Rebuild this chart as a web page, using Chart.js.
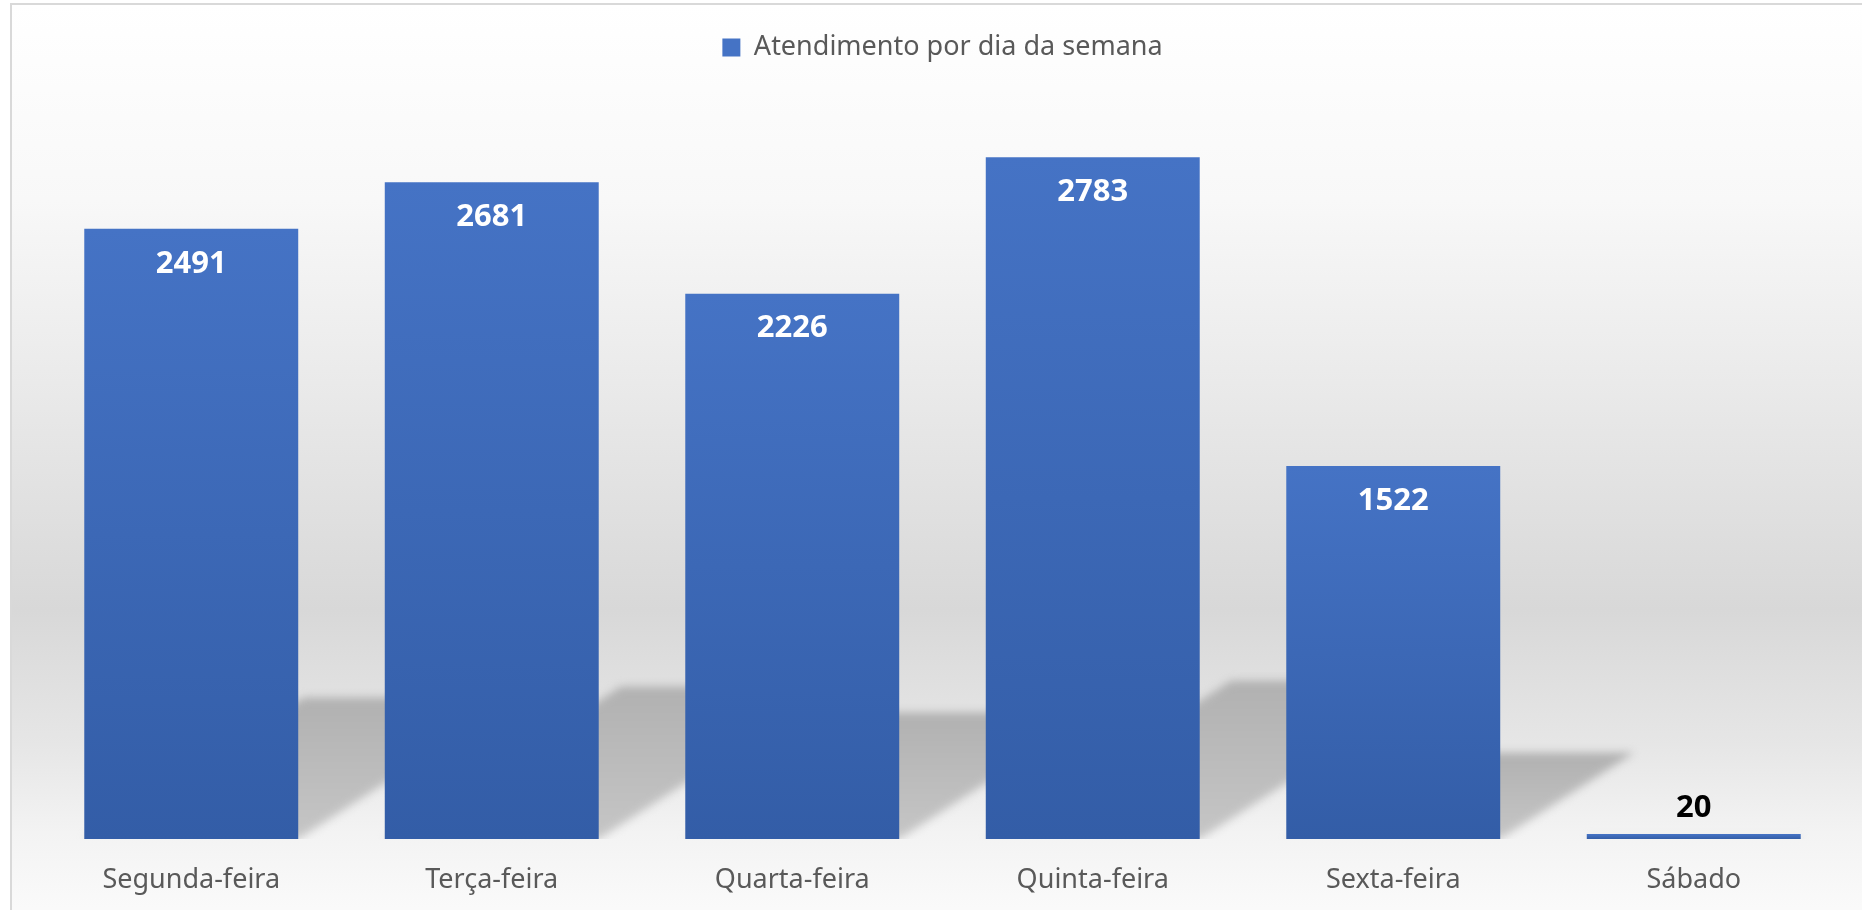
<!DOCTYPE html>
<html>
<head>
<meta charset="utf-8">
<script src="https://cdn.jsdelivr.net/npm/chart.js@4.4.0/dist/chart.umd.min.js"></script>
<style>
html, body { margin: 0; padding: 0; width: 1862px; height: 910px; overflow: hidden; background: #fff; }
#frame {
    position: absolute; left: 10px; top: 3px; width: 1870px; height: 930px;
    border: 2px solid #d9d9d9;
    background: linear-gradient(to bottom, #ffffff 0%, #f8f8f8 21%, #e9e9e9 42%, #d8d8d8 65%, #e6e6e6 79.5%, #f3f3f3 89%, #fafafa 97%);
}
#wrap { position: absolute; left: 0; top: 0; width: 1862px; height: 910px; }
</style>
</head>
<body>
<div id="frame"></div>
<div id="wrap"><canvas id="chart" width="1862" height="910"></canvas></div>
<script>
const dias = ["Segunda-feira", "Terça-feira", "Quarta-feira", "Quinta-feira", "Sexta-feira", "Sábado"];
const atendimentos = [2491, 2681, 2226, 2783, 1522, 20];
const serieNome = "Atendimento por dia da semana";
const yMax = 3000;

/**
 * gradient per bar, from its top to the base line
 */
function barGradient(ctx) {
    const chart = ctx.chart;
    if (!chart.chartArea || ctx.parsed === undefined) return "#4472c4";
    const y = chart.scales.y;
    const top = y.getPixelForValue(ctx.parsed.y);
    const base = y.getPixelForValue(0);
    const g = chart.ctx.createLinearGradient(0, top, 0, Math.max(base, top + 1));
    g.addColorStop(0, "#4573c5");
    g.addColorStop(1, "#335da7");
    return g;
}

// perspective shadow behind each bar
const sombraPlugin = {
    id: "sombra",
    beforeDatasetsDraw(chart) {
        const c = chart.ctx;
        const area = chart.chartArea;
        c.save();
        c.beginPath();
        c.rect(0, 0, chart.width, area.bottom);
        c.clip();
        c.filter = "blur(4px)";
        chart.getDatasetMeta(0).data.forEach(bar => {
            const h = (bar.base - bar.y) * 0.232;
            const dx = h * 1.55;
            const l = bar.x - bar.width / 2;
            const r = bar.x + bar.width / 2;
            const g = c.createLinearGradient(0, bar.base - h, 0, bar.base);
            g.addColorStop(0, "#b1b1b1");
            g.addColorStop(1, "#c6c6c6");
            c.fillStyle = g;
            c.beginPath();
            c.moveTo(l, bar.base);
            c.lineTo(r, bar.base);
            c.lineTo(r + dx, bar.base - h);
            c.lineTo(l + dx, bar.base - h);
            c.closePath();
            c.fill();
        });
        c.restore();
    }
};

// values on the bars
const rotulosPlugin = {
    id: "rotulos",
    afterDatasetsDraw(chart) {
        const c = chart.ctx;
        c.save();
        c.font = "bold 31px 'Noto Sans'";
        c.textAlign = "center";
        c.textBaseline = "middle";
        chart.getDatasetMeta(0).data.forEach((bar, i) => {
            const inside = bar.base - bar.y > 60;
            c.fillStyle = inside ? "#ffffff" : "#000000";
            c.fillText(String(atendimentos[i]), bar.x, inside ? bar.y + 35 : bar.y - 26);
        });
        c.restore();
    }
};

new Chart(document.getElementById("chart"), {
    type: "bar",
    data: {
        labels: dias,
        datasets: [{
            label: serieNome,
            data: atendimentos,
            backgroundColor: barGradient,
            borderWidth: 0,
            categoryPercentage: 1,
            barPercentage: 0.712
        }]
    },
    options: {
        responsive: false,
        animation: false,
        devicePixelRatio: 1,
        layout: { padding: { left: 41, right: 18, top: 24, bottom: 0 } },
        plugins: {
            tooltip: { enabled: false },
            legend: {
                position: "top",
                labels: {
                    boxWidth: 18,
                    boxHeight: 18,
                    padding: 10,
                    color: "#595959",
                    font: { family: "'Noto Sans'", size: 27 }
                }
            },
            // empty spacer between legend and bars
            subtitle: {
                display: true,
                text: "",
                weight: 500,
                font: { size: 10, lineHeight: 1.2 },
                padding: { top: 0, bottom: 21 }
            }
        },
        scales: {
            x: {
                grid: { display: false, drawTicks: false },
                border: { display: false },
                ticks: { color: "#595959", padding: 25, font: { family: "'Noto Sans'", size: 27 } },
                afterFit(scale) { scale.height = 71; }
            },
            y: { display: false, min: 0, max: yMax }
        }
    },
    plugins: [sombraPlugin, rotulosPlugin]
});
</script>
</body>
</html>
